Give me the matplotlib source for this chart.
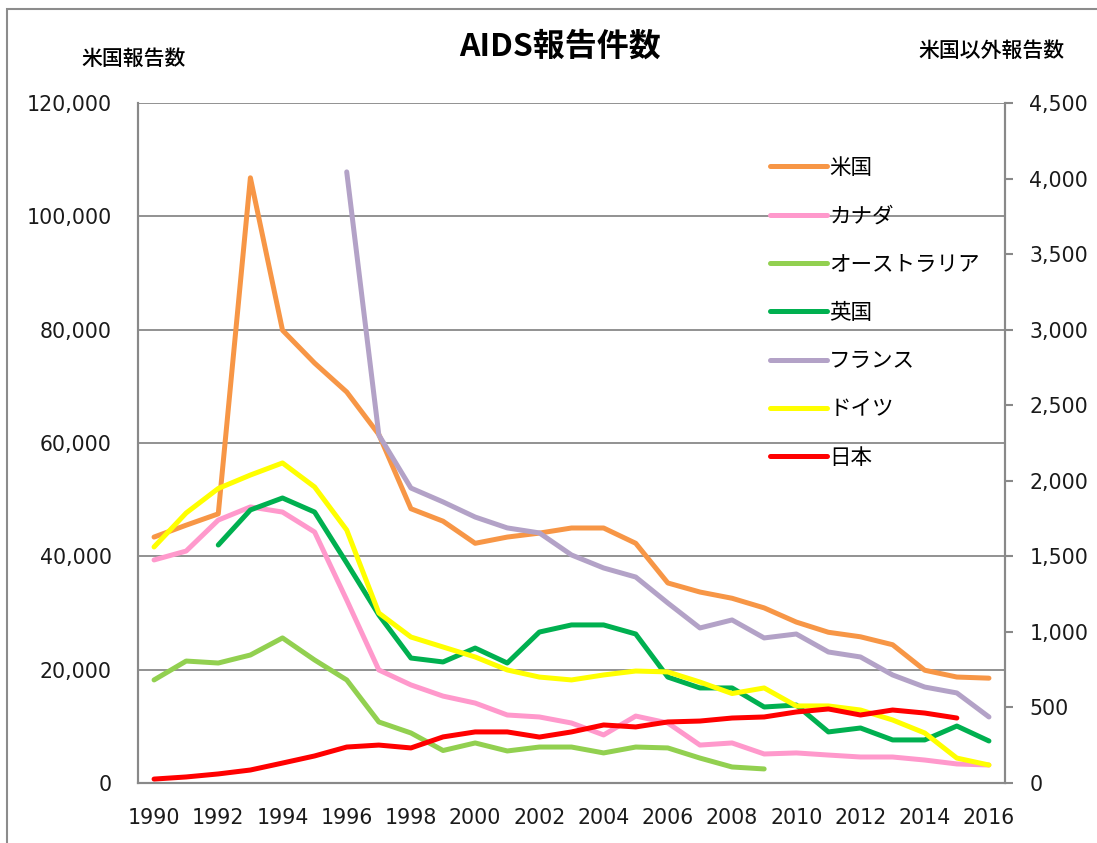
import matplotlib
matplotlib.use("Agg")
import matplotlib.pyplot as plt
from matplotlib.patches import Rectangle
from matplotlib.ticker import FuncFormatter, MultipleLocator
import numpy as np

plt.rcParams['font.family'] = ['Noto Sans CJK JP', 'DejaVu Sans']

years = list(range(1990, 2017))

usa = [43400, 45500, 47500, 106800, 79900, 74100, 69000, 61500, 48400, 46200,
       42300, 43400, 44100, 45000, 45000, 42300, 35300, 33700, 32600, 30900,
       28400, 26600, 25800, 24400, 19900, 18700, 18500]
canada = [1476, 1535, 1740, 1827, 1793, 1661, 1211, 748, 649, 575,
          529, 450, 437, 397, 318, 443, 397, 251, 265, 192,
          199, 185, 172, 172, 152, 126, 119]
australia = [682, 807, 794, 847, 960, 814, 682, 404, 331, 215,
             265, 212, 238, 238, 199, 238, 232, 165, 106, 93]
uk_years = list(range(1992, 2017))
uk = [1575, 1807, 1886, 1793, 1456, 1112, 827, 801,
      893, 794, 999, 1046, 1046, 986, 701, 629, 629, 503,
      516, 338, 364, 285, 285, 377, 278]
fr_years = list(range(1996, 2017))
france = [4044, 2303, 1952, 1860, 1760, 1688, 1655, 1509, 1423, 1363,
          1191, 1026, 1079, 960, 986, 867, 834, 715, 635, 596, 437]
germany = [1562, 1787, 1949, 2038, 2118, 1959, 1674, 1125, 966, 900,
           834, 748, 701, 682, 715, 741, 735, 668, 592, 629,
           510, 510, 483, 417, 331, 165, 119]
japan = [26, 40, 60, 86, 132, 179, 238, 251, 232, 305,
         338, 338, 304, 338, 384, 371, 404, 410, 430, 437,
         470, 490, 450, 483, 463, 430]

labels = ['米国', 'カナダ', 'オーストラリア', '英国', 'フランス', 'ドイツ', '日本']
colors = ['#F79646', '#FF99CC', '#92D050', '#00B050', '#B3A2C7', '#FFFF00', '#FF0000']

W, H = 1097, 843
fig = plt.figure(figsize=(W / 100, H / 100), dpi=100)
ax = fig.add_axes([138 / W, 1 - 783 / H, (1005 - 138) / W, (783 - 103) / H])
ax2 = ax.twinx()

gray = '#898989'
lw = 3.6

h_us, = ax.plot(years, usa, color=colors[0], lw=lw, solid_capstyle='round')
h_ca, = ax2.plot(years, canada, color=colors[1], lw=lw, solid_capstyle='round')
h_au, = ax2.plot(years[:len(australia)], australia, color=colors[2], lw=lw, solid_capstyle='round')
h_uk, = ax2.plot(uk_years, uk, color=colors[3], lw=lw, solid_capstyle='round')
h_fr, = ax2.plot(fr_years, france, color=colors[4], lw=lw, solid_capstyle='round')
h_de, = ax2.plot(years, germany, color=colors[5], lw=lw, solid_capstyle='round')
h_jp, = ax2.plot(years[:len(japan)], japan, color=colors[6], lw=lw, solid_capstyle='round')

ax.set_xlim(1989.5, 2016.5)
ax.set_ylim(0, 120000)
ax2.set_ylim(0, 4500)
ax.set_xticks(years[::2])
ax.yaxis.set_major_locator(MultipleLocator(20000))
ax2.yaxis.set_major_locator(MultipleLocator(500))
fmt = FuncFormatter(lambda v, p: f'{int(v):,}')
ax.yaxis.set_major_formatter(fmt)
ax2.yaxis.set_major_formatter(fmt)

ax.grid(axis='y', color=gray, lw=1.3)
ax.set_axisbelow(True)

for a in (ax, ax2):
    a.spines['top'].set_visible(False)
    for s in ('left', 'right', 'bottom'):
        a.spines[s].set_color(gray)
        a.spines[s].set_linewidth(1.5)

ax.tick_params(axis='y', length=0, pad=19, labelcolor='#1a1a1a')
ax.tick_params(axis='x', length=0, pad=18, labelcolor='#1a1a1a')
ax2.tick_params(axis='y', length=5.5, width=1.5, color=gray, pad=12, labelcolor='#1a1a1a')
for lab in ax.get_yticklabels() + ax.get_xticklabels() + ax2.get_yticklabels():
    lab.set_fontfamily('DejaVu Sans')
    lab.set_fontsize(14.8)

fig.text(560 / W, 1 - 47 / H, 'AIDS報告件数', ha='center', va='center',
         fontsize=23, fontweight='bold', family=['Noto Sans CJK JP', 'DejaVu Sans'])
fig.text(134 / W, 1 - 59 / H, '米国報告数', ha='center', va='center', fontsize=15,
         fontweight='medium')
fig.text(991 / W, 1 - 51 / H, '米国以外報告数', ha='center', va='center', fontsize=15,
         fontweight='medium')

handles = [h_us, h_ca, h_au, h_uk, h_fr, h_de, h_jp]
leg = ax2.legend(handles, labels, loc='upper left',
                 bbox_to_anchor=(770 / W, 1 - 157 / H), bbox_transform=fig.transFigure,
                 frameon=False, fontsize=15.5, handlelength=2.65, handletextpad=0.1,
                 labelspacing=1.22, borderpad=0, borderaxespad=0)

fig.patches.append(Rectangle((7 / W, -0.1), 1.2, (843 - 9) / H + 0.1,
                             transform=fig.transFigure, fill=False,
                             edgecolor='#8c8c8c', lw=1.5))

fig.savefig('out.png', dpi=100, facecolor='white')
